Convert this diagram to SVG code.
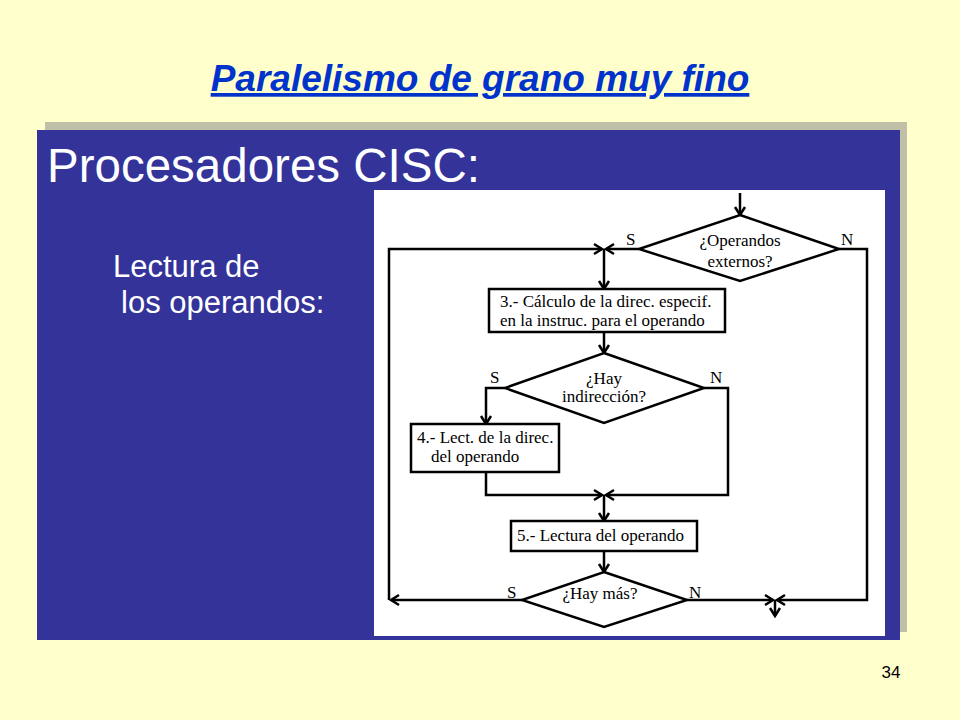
<svg xmlns="http://www.w3.org/2000/svg" width="960" height="720" viewBox="0 0 960 720">
<defs>
<style>
.fc{fill:none;stroke:#000;stroke-width:2.5;stroke-linejoin:miter}
.nd{fill:#fff;stroke:#000;stroke-width:2.5}
.t{font-family:"Liberation Serif","Times New Roman",serif;font-size:17px;fill:#000}
.c{text-anchor:middle}
.w{font-family:"Liberation Sans",Arial,sans-serif;fill:#fff}
</style>
<marker id="ah" viewBox="-10 -7 12 14" refX="0" refY="0" markerWidth="12" markerHeight="14" markerUnits="userSpaceOnUse" orient="auto">
<path d="M-8,-5 L0,0 L-8,5" fill="none" stroke="#000" stroke-width="2.5"/>
</marker>
</defs>
<rect width="960" height="720" fill="#FFFFCC"/>
<text x="480" y="91" text-anchor="middle" font-family="Liberation Sans,Arial,sans-serif" font-size="37" font-weight="bold" font-style="italic" fill="#0033CC" text-decoration="underline">Paralelismo de grano muy fino</text>
<rect x="45" y="122" width="862" height="510" fill="#C0C0A8"/>
<rect x="37" y="130" width="863" height="510" fill="#333399"/>
<text class="w" x="47" y="182" font-size="47.5">Procesadores CISC:</text>
<text class="w" x="113" y="277" font-size="31">Lectura de</text>
<text class="w" x="121" y="313" font-size="31">los operandos:</text>
<rect x="374" y="190" width="511" height="446" fill="#fff"/>
<g id="connectors">
<path class="fc" d="M740,193 V215" marker-end="url(#ah)"/>
<path class="fc" d="M639,249 H606" marker-end="url(#ah)"/>
<path class="fc" d="M389,600 V249 H602" marker-end="url(#ah)"/>
<path class="fc" d="M604,249 V289" marker-end="url(#ah)"/>
<path class="fc" d="M839,249 H867 V600 H777" marker-end="url(#ah)"/>
<path class="fc" d="M604,332 V353" marker-end="url(#ah)"/>
<path class="fc" d="M505,388 H486 V424" marker-end="url(#ah)"/>
<path class="fc" d="M486,472 V495 H602" marker-end="url(#ah)"/>
<path class="fc" d="M704,388 H728 V495 H606" marker-end="url(#ah)"/>
<path class="fc" d="M604,495 V521" marker-end="url(#ah)"/>
<path class="fc" d="M604,551 V572" marker-end="url(#ah)"/>
<path class="fc" d="M522,600 H391" marker-end="url(#ah)"/>
<path class="fc" d="M687,600 H773" marker-end="url(#ah)"/>
<path class="fc" d="M775,600 V616" marker-end="url(#ah)"/>
</g>
<g id="d1">
<polygon class="nd" points="740,215 839,249 740,281 639,249"/>
<text class="t c" x="740" y="246">¿Operandos</text>
<text class="t c" x="740" y="267">externos?</text>
<text class="t" x="626" y="245">S</text>
<text class="t" x="841" y="245">N</text>
</g>
<g id="b3">
<rect class="nd" x="489" y="289" width="236" height="43"/>
<text class="t" x="500" y="307">3.- Cálculo de la direc. especif.</text>
<text class="t" x="500" y="326">en la instruc. para el operando</text>
</g>
<g id="d2">
<polygon class="nd" points="604,353 704,388 604,423 505,388"/>
<text class="t c" x="604" y="384">¿Hay</text>
<text class="t c" x="604" y="402">indirección?</text>
<text class="t" x="490" y="383">S</text>
<text class="t" x="710" y="383">N</text>
</g>
<g id="b4">
<rect class="nd" x="411" y="424" width="148" height="48"/>
<text class="t" x="417" y="443">4.- Lect. de la direc.</text>
<text class="t" x="431" y="462">del operando</text>
</g>
<g id="b5">
<rect class="nd" x="511" y="521" width="186" height="30"/>
<text class="t" x="517" y="541">5.- Lectura del operando</text>
</g>
<g id="d3">
<polygon class="nd" points="604,572 687,600 604,627 522,600"/>
<text class="t c" x="600" y="599">¿Hay más?</text>
<text class="t" x="507" y="598">S</text>
<text class="t" x="689" y="598">N</text>
</g>
<text x="891" y="678" text-anchor="middle" font-family="Liberation Sans,Arial,sans-serif" font-size="17" fill="#000">34</text>
</svg>
